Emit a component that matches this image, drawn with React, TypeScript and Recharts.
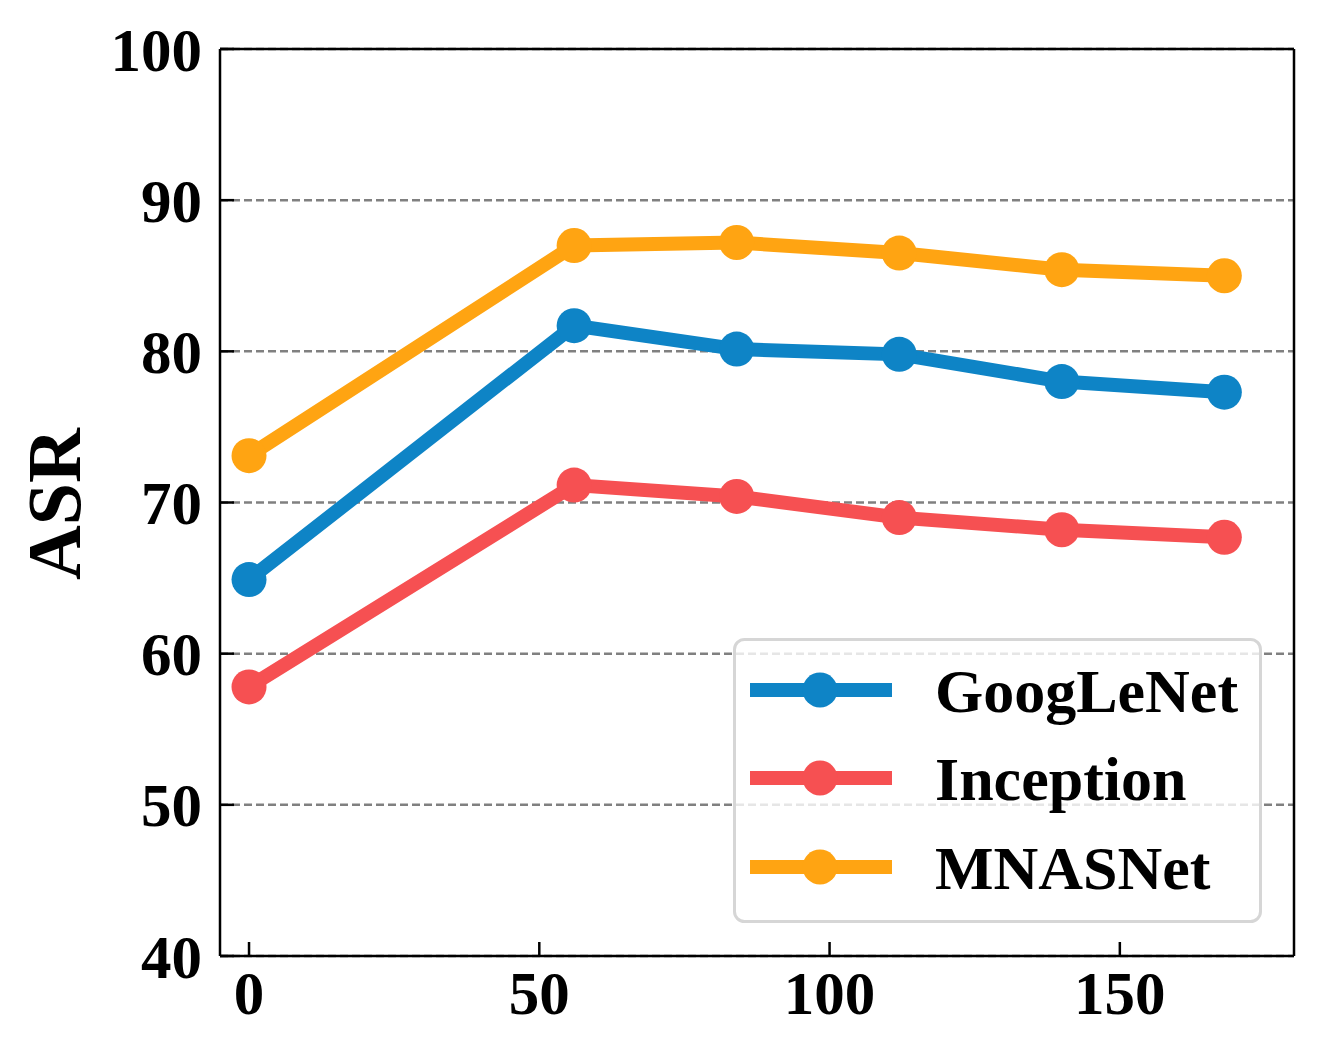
import React from "react";
import {
  LineChart,
  Line,
  XAxis,
  YAxis,
  CartesianGrid,
  ReferenceLine,
} from "recharts";

const steps = [0, 56, 84, 112, 140, 168];
const googLeNet = [64.9, 81.7, 80.15, 79.8, 78.0, 77.3];
const inception = [57.8, 71.15, 70.4, 69.0, 68.2, 67.7];
const mnasNet = [73.1, 87.0, 87.2, 86.5, 85.4, 85.0];

const xTicks = [0, 50, 100, 150];
const yTicks = [40, 50, 60, 70, 80, 90, 100];
const X_DOMAIN: [number, number] = [-5, 180];
const Y_DOMAIN: [number, number] = [40, 100];

const SERIES = [
  { key: "GoogLeNet", color: "#0E84C6" },
  { key: "Inception", color: "#F65052" },
  { key: "MNASNet", color: "#FFA412" },
];

const data = steps.map((step, i) => ({
  step,
  GoogLeNet: googLeNet[i],
  Inception: inception[i],
  MNASNet: mnasNet[i],
}));

const FONT = '"Liberation Serif", "Times New Roman", serif';
const tickStyle = { fill: "#000", fontSize: 61, fontWeight: 700, fontFamily: FONT };
const frame = { stroke: "#000", strokeWidth: 2.5 };

function AsrLabel() {
  return (
    <text
      x={80}
      y={504}
      transform="rotate(-90, 80, 504)"
      textAnchor="middle"
      fill="#000"
      fontSize={76}
      fontWeight={700}
      fontFamily={FONT}
    >
      ASR
    </text>
  );
}

// matplotlib-style legend box, drawn on top of the plot
function BoxLegend() {
  const rows = [52, 140, 229];
  return (
    <svg
      width={529}
      height={285}
      style={{ position: "absolute", left: 733, top: 638, display: "block" }}
    >
      <rect
        x={1.5}
        y={1.5}
        width={526}
        height={282}
        rx={10}
        fill="rgba(255,255,255,0.8)"
        stroke="#d6d6d6"
        strokeWidth={3}
      />
      {SERIES.map((s, i) => (
        <g key={s.key}>
          <line x1={17} x2={159} y1={rows[i]} y2={rows[i]} stroke={s.color} strokeWidth={14} />
          <circle cx={87} cy={rows[i]} r={17.5} fill={s.color} />
          <text
            x={202}
            y={rows[i] + 22}
            fill="#000"
            fontSize={62}
            fontWeight={700}
            fontFamily={FONT}
          >
            {s.key}
          </text>
        </g>
      ))}
    </svg>
  );
}

export default function App() {
  return (
    <div style={{ position: "absolute", left: 0, top: 0, width: 1324, height: 1057, background: "#fff" }}>
      <LineChart
        width={1324}
        height={1057}
        data={data}
        margin={{ top: 49, right: 30, left: 0, bottom: 0 }}
      >
        <CartesianGrid vertical={false} stroke="#808080" strokeWidth={2.5} strokeDasharray="8 4" />
        <XAxis
          dataKey="step"
          type="number"
          domain={X_DOMAIN}
          ticks={xTicks}
          allowDataOverflow
          height={101}
          tick={tickStyle}
          tickSize={-14}
          tickMargin={29}
          axisLine={frame}
          tickLine={frame}
        />
        <YAxis
          type="number"
          domain={Y_DOMAIN}
          ticks={yTicks}
          allowDataOverflow
          width={220}
          tick={tickStyle}
          tickSize={-14}
          tickMargin={32}
          axisLine={frame}
          tickLine={frame}
          label={<AsrLabel />}
        />
        <ReferenceLine y={Y_DOMAIN[1]} {...frame} />
        <ReferenceLine x={X_DOMAIN[1]} {...frame} />
        {SERIES.map((s) => (
          <Line
            key={s.key}
            dataKey={s.key}
            stroke={s.color}
            strokeWidth={14}
            dot={{ r: 17.5, fill: s.color, stroke: "none" }}
            activeDot={false}
            isAnimationActive={false}
          />
        ))}
      </LineChart>
      <BoxLegend />
    </div>
  );
}
